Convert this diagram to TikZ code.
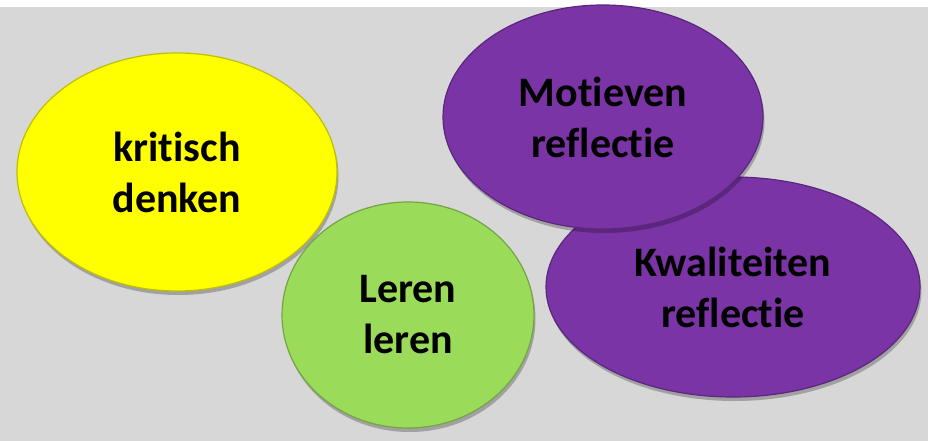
\documentclass[tikz,border=0pt]{standalone}
\usepackage{fontspec}
\setsansfont{Carlito}[Ligatures={CommonOff,RareOff}]
\usetikzlibrary{shapes.geometric,shadows}

\definecolor{FondGris}{RGB}{215,215,215}
\definecolor{Jaune}{RGB}{255,255,0}
\definecolor{Vert}{RGB}{155,219,90}
\definecolor{Violet}{RGB}{122,52,166}

\begin{document}
\begin{tikzpicture}[x=1pt,y=-1pt]
    \tikzset{BulleStyle/.style =   {ellipse,fill=#1,draw=#1!75!black,line width=1.2pt,inner sep=0pt,
        drop shadow={shadow xshift=1.5pt,shadow yshift=-4pt,opacity=.25,fill=black},
        text=black,align=center,font=\sffamily\bfseries\fontsize{42}{51}\selectfont}}

    \useasboundingbox (0,0) rectangle (928,441);
    \fill[white] (0,0) rectangle (928,441);
    \fill[FondGris] (0,7) rectangle (928,441);

    \node[BulleStyle=Jaune,minimum width=320pt,minimum height=238pt] (kd) at (177,172) {kritisch\\denken};
    \node[BulleStyle=Vert,minimum width=252pt,minimum height=226pt] (ll) at (408,315) {Leren\\leren};
    \node[BulleStyle=Violet,minimum width=374pt,minimum height=220pt] (kr) at (733,287) {Kwaliteiten\\reflectie};
    \node[BulleStyle=Violet,minimum width=320pt,minimum height=224pt] (mr) at (603,117) {Motieven\\reflectie};
\end{tikzpicture}
\end{document}
